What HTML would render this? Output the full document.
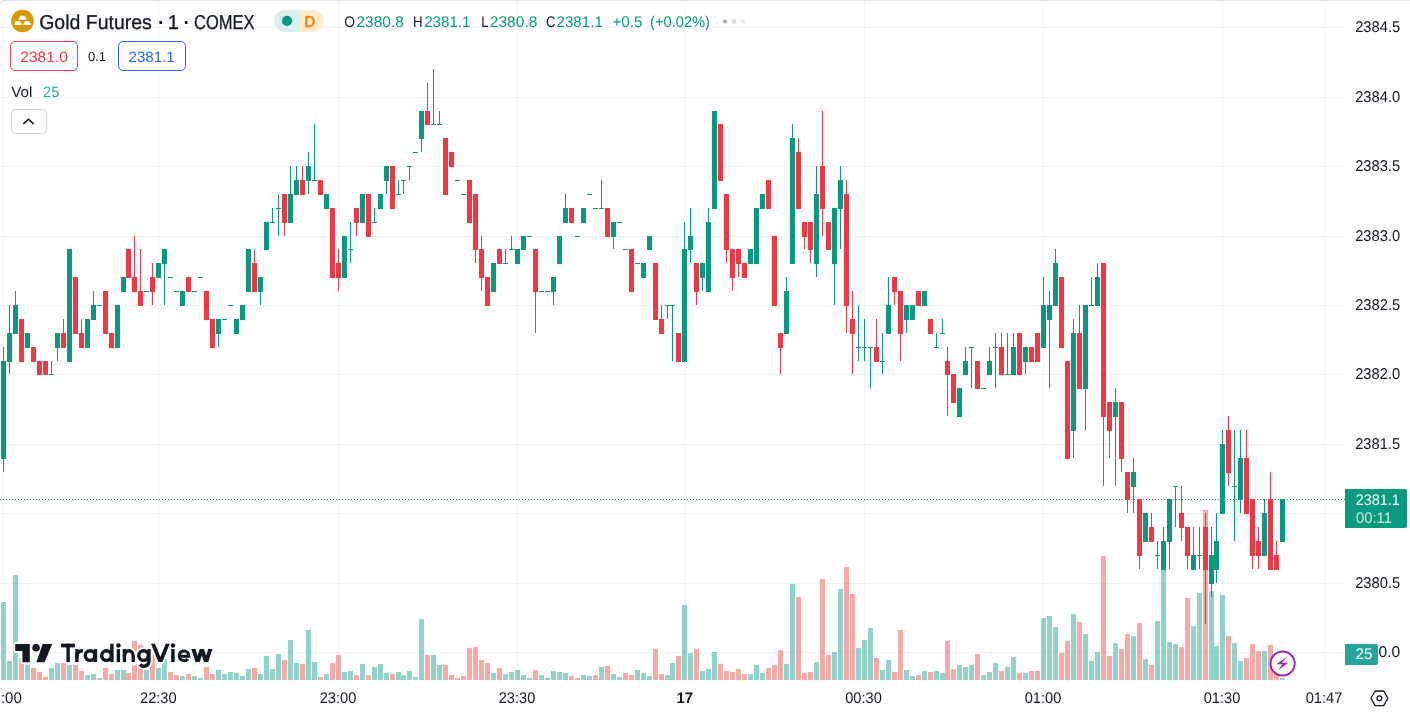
<!DOCTYPE html><html><head><meta charset="utf-8"><title>Gold Futures</title>
<style>html,body{margin:0;padding:0;background:#fff;}body{width:1410px;height:714px;overflow:hidden;position:relative;font-family:"Liberation Sans",sans-serif;}svg{position:absolute;left:0;top:0;display:block;will-change:transform;opacity:0.999}text{font-family:"Liberation Sans",sans-serif;text-rendering:geometricPrecision;}</style></head><body>
<svg width="1410" height="714" viewBox="0 0 1410 714">
<rect x="0" y="0" width="1410" height="714" fill="#ffffff"/>
<g shape-rendering="crispEdges" fill="rgba(42,46,57,0.06)">
<rect x="3" y="0" width="1" height="680"/>
<rect x="158" y="0" width="1" height="680"/>
<rect x="338" y="0" width="1" height="680"/>
<rect x="517" y="0" width="1" height="680"/>
<rect x="684" y="0" width="1" height="680"/>
<rect x="864" y="0" width="1" height="680"/>
<rect x="1043" y="0" width="1" height="680"/>
<rect x="1222" y="0" width="1" height="680"/>
<rect x="1324" y="0" width="1" height="680"/>
<rect x="0" y="652" width="1345" height="1"/>
<rect x="0" y="583" width="1345" height="1"/>
<rect x="0" y="513" width="1345" height="1"/>
<rect x="0" y="444" width="1345" height="1"/>
<rect x="0" y="374" width="1345" height="1"/>
<rect x="0" y="305" width="1345" height="1"/>
<rect x="0" y="236" width="1345" height="1"/>
<rect x="0" y="166" width="1345" height="1"/>
<rect x="0" y="97" width="1345" height="1"/>
<rect x="0" y="27" width="1345" height="1"/>
</g>
<g shape-rendering="crispEdges">
<rect x="1" y="602" width="5" height="78" fill="rgba(38,166,154,0.5)"/>
<rect x="7" y="661" width="5" height="19" fill="rgba(38,166,154,0.5)"/>
<rect x="13" y="575" width="5" height="105" fill="rgba(38,166,154,0.5)"/>
<rect x="19" y="658" width="5" height="22" fill="rgba(239,83,80,0.5)"/>
<rect x="25" y="665" width="5" height="15" fill="rgba(38,166,154,0.5)"/>
<rect x="31" y="668" width="5" height="12" fill="rgba(239,83,80,0.5)"/>
<rect x="37" y="672" width="5" height="8" fill="rgba(239,83,80,0.5)"/>
<rect x="43" y="677" width="5" height="3" fill="rgba(239,83,80,0.5)"/>
<rect x="49" y="668" width="5" height="12" fill="rgba(38,166,154,0.5)"/>
<rect x="55" y="663" width="5" height="17" fill="rgba(38,166,154,0.5)"/>
<rect x="61" y="663" width="5" height="17" fill="rgba(239,83,80,0.5)"/>
<rect x="67" y="665" width="5" height="15" fill="rgba(38,166,154,0.5)"/>
<rect x="73" y="665" width="5" height="15" fill="rgba(239,83,80,0.5)"/>
<rect x="79" y="671" width="5" height="9" fill="rgba(239,83,80,0.5)"/>
<rect x="85" y="675" width="5" height="5" fill="rgba(38,166,154,0.5)"/>
<rect x="91" y="674" width="5" height="6" fill="rgba(38,166,154,0.5)"/>
<rect x="97" y="678" width="5" height="2" fill="rgba(38,166,154,0.5)"/>
<rect x="103" y="668" width="5" height="12" fill="rgba(239,83,80,0.5)"/>
<rect x="109" y="674" width="5" height="6" fill="rgba(239,83,80,0.5)"/>
<rect x="115" y="670" width="5" height="10" fill="rgba(38,166,154,0.5)"/>
<rect x="121" y="670" width="5" height="10" fill="rgba(38,166,154,0.5)"/>
<rect x="126" y="673" width="5" height="7" fill="rgba(239,83,80,0.5)"/>
<rect x="132" y="641" width="5" height="39" fill="rgba(239,83,80,0.5)"/>
<rect x="138" y="645" width="5" height="35" fill="rgba(239,83,80,0.5)"/>
<rect x="144" y="670" width="5" height="10" fill="rgba(38,166,154,0.5)"/>
<rect x="150" y="652" width="5" height="28" fill="rgba(239,83,80,0.5)"/>
<rect x="156" y="668" width="5" height="12" fill="rgba(38,166,154,0.5)"/>
<rect x="162" y="659" width="5" height="21" fill="rgba(38,166,154,0.5)"/>
<rect x="168" y="672" width="5" height="8" fill="rgba(239,83,80,0.5)"/>
<rect x="174" y="675" width="5" height="5" fill="rgba(239,83,80,0.5)"/>
<rect x="180" y="676" width="5" height="4" fill="rgba(38,166,154,0.5)"/>
<rect x="186" y="674" width="5" height="6" fill="rgba(239,83,80,0.5)"/>
<rect x="192" y="676" width="5" height="4" fill="rgba(38,166,154,0.5)"/>
<rect x="198" y="678" width="5" height="2" fill="rgba(38,166,154,0.5)"/>
<rect x="204" y="667" width="5" height="13" fill="rgba(239,83,80,0.5)"/>
<rect x="210" y="674" width="5" height="6" fill="rgba(239,83,80,0.5)"/>
<rect x="216" y="670" width="5" height="10" fill="rgba(38,166,154,0.5)"/>
<rect x="222" y="674" width="5" height="6" fill="rgba(38,166,154,0.5)"/>
<rect x="228" y="672" width="5" height="8" fill="rgba(38,166,154,0.5)"/>
<rect x="234" y="673" width="5" height="7" fill="rgba(38,166,154,0.5)"/>
<rect x="240" y="676" width="5" height="4" fill="rgba(38,166,154,0.5)"/>
<rect x="246" y="669" width="5" height="11" fill="rgba(38,166,154,0.5)"/>
<rect x="252" y="668" width="5" height="12" fill="rgba(239,83,80,0.5)"/>
<rect x="258" y="674" width="5" height="6" fill="rgba(38,166,154,0.5)"/>
<rect x="264" y="656" width="5" height="24" fill="rgba(38,166,154,0.5)"/>
<rect x="270" y="669" width="5" height="11" fill="rgba(38,166,154,0.5)"/>
<rect x="276" y="654" width="5" height="26" fill="rgba(38,166,154,0.5)"/>
<rect x="282" y="660" width="5" height="20" fill="rgba(239,83,80,0.5)"/>
<rect x="288" y="640" width="5" height="40" fill="rgba(38,166,154,0.5)"/>
<rect x="294" y="663" width="5" height="17" fill="rgba(38,166,154,0.5)"/>
<rect x="300" y="664" width="5" height="16" fill="rgba(239,83,80,0.5)"/>
<rect x="306" y="630" width="5" height="50" fill="rgba(38,166,154,0.5)"/>
<rect x="312" y="662" width="5" height="18" fill="rgba(38,166,154,0.5)"/>
<rect x="318" y="677" width="5" height="3" fill="rgba(239,83,80,0.5)"/>
<rect x="324" y="674" width="5" height="6" fill="rgba(38,166,154,0.5)"/>
<rect x="330" y="663" width="5" height="17" fill="rgba(239,83,80,0.5)"/>
<rect x="336" y="655" width="5" height="25" fill="rgba(239,83,80,0.5)"/>
<rect x="342" y="672" width="5" height="8" fill="rgba(38,166,154,0.5)"/>
<rect x="348" y="671" width="5" height="9" fill="rgba(38,166,154,0.5)"/>
<rect x="354" y="675" width="5" height="5" fill="rgba(239,83,80,0.5)"/>
<rect x="360" y="664" width="5" height="16" fill="rgba(38,166,154,0.5)"/>
<rect x="366" y="675" width="5" height="5" fill="rgba(239,83,80,0.5)"/>
<rect x="372" y="667" width="5" height="13" fill="rgba(38,166,154,0.5)"/>
<rect x="378" y="664" width="5" height="16" fill="rgba(38,166,154,0.5)"/>
<rect x="384" y="673" width="5" height="7" fill="rgba(38,166,154,0.5)"/>
<rect x="390" y="674" width="5" height="6" fill="rgba(239,83,80,0.5)"/>
<rect x="396" y="672" width="5" height="8" fill="rgba(38,166,154,0.5)"/>
<rect x="401" y="675" width="5" height="5" fill="rgba(38,166,154,0.5)"/>
<rect x="407" y="671" width="5" height="9" fill="rgba(38,166,154,0.5)"/>
<rect x="413" y="677" width="5" height="3" fill="rgba(38,166,154,0.5)"/>
<rect x="419" y="619" width="5" height="61" fill="rgba(38,166,154,0.5)"/>
<rect x="425" y="655" width="5" height="25" fill="rgba(239,83,80,0.5)"/>
<rect x="431" y="655" width="5" height="25" fill="rgba(38,166,154,0.5)"/>
<rect x="437" y="665" width="5" height="15" fill="rgba(38,166,154,0.5)"/>
<rect x="443" y="665" width="5" height="15" fill="rgba(239,83,80,0.5)"/>
<rect x="449" y="675" width="5" height="5" fill="rgba(239,83,80,0.5)"/>
<rect x="455" y="678" width="5" height="2" fill="rgba(239,83,80,0.5)"/>
<rect x="461" y="676" width="5" height="4" fill="rgba(239,83,80,0.5)"/>
<rect x="467" y="648" width="5" height="32" fill="rgba(239,83,80,0.5)"/>
<rect x="473" y="647" width="5" height="33" fill="rgba(239,83,80,0.5)"/>
<rect x="479" y="660" width="5" height="20" fill="rgba(239,83,80,0.5)"/>
<rect x="485" y="663" width="5" height="17" fill="rgba(239,83,80,0.5)"/>
<rect x="491" y="673" width="5" height="7" fill="rgba(38,166,154,0.5)"/>
<rect x="497" y="668" width="5" height="12" fill="rgba(239,83,80,0.5)"/>
<rect x="503" y="674" width="5" height="6" fill="rgba(38,166,154,0.5)"/>
<rect x="509" y="672" width="5" height="8" fill="rgba(38,166,154,0.5)"/>
<rect x="515" y="670" width="5" height="10" fill="rgba(38,166,154,0.5)"/>
<rect x="521" y="675" width="5" height="5" fill="rgba(38,166,154,0.5)"/>
<rect x="527" y="678" width="5" height="2" fill="rgba(38,166,154,0.5)"/>
<rect x="533" y="670" width="5" height="10" fill="rgba(239,83,80,0.5)"/>
<rect x="539" y="675" width="5" height="5" fill="rgba(38,166,154,0.5)"/>
<rect x="545" y="678" width="5" height="2" fill="rgba(38,166,154,0.5)"/>
<rect x="551" y="671" width="5" height="9" fill="rgba(38,166,154,0.5)"/>
<rect x="557" y="672" width="5" height="8" fill="rgba(38,166,154,0.5)"/>
<rect x="563" y="673" width="5" height="7" fill="rgba(38,166,154,0.5)"/>
<rect x="569" y="676" width="5" height="4" fill="rgba(239,83,80,0.5)"/>
<rect x="575" y="678" width="5" height="2" fill="rgba(239,83,80,0.5)"/>
<rect x="581" y="675" width="5" height="5" fill="rgba(38,166,154,0.5)"/>
<rect x="587" y="676" width="5" height="4" fill="rgba(38,166,154,0.5)"/>
<rect x="593" y="675" width="5" height="5" fill="rgba(239,83,80,0.5)"/>
<rect x="599" y="667" width="5" height="13" fill="rgba(38,166,154,0.5)"/>
<rect x="605" y="666" width="5" height="14" fill="rgba(239,83,80,0.5)"/>
<rect x="611" y="674" width="5" height="6" fill="rgba(38,166,154,0.5)"/>
<rect x="617" y="677" width="5" height="3" fill="rgba(38,166,154,0.5)"/>
<rect x="623" y="673" width="5" height="7" fill="rgba(239,83,80,0.5)"/>
<rect x="629" y="675" width="5" height="5" fill="rgba(239,83,80,0.5)"/>
<rect x="635" y="670" width="5" height="10" fill="rgba(38,166,154,0.5)"/>
<rect x="641" y="673" width="5" height="7" fill="rgba(38,166,154,0.5)"/>
<rect x="647" y="676" width="5" height="4" fill="rgba(38,166,154,0.5)"/>
<rect x="653" y="649" width="5" height="31" fill="rgba(239,83,80,0.5)"/>
<rect x="659" y="674" width="5" height="6" fill="rgba(239,83,80,0.5)"/>
<rect x="665" y="675" width="5" height="5" fill="rgba(38,166,154,0.5)"/>
<rect x="670" y="663" width="5" height="17" fill="rgba(38,166,154,0.5)"/>
<rect x="676" y="656" width="5" height="24" fill="rgba(239,83,80,0.5)"/>
<rect x="682" y="605" width="5" height="75" fill="rgba(38,166,154,0.5)"/>
<rect x="688" y="653" width="5" height="27" fill="rgba(38,166,154,0.5)"/>
<rect x="694" y="649" width="5" height="31" fill="rgba(239,83,80,0.5)"/>
<rect x="700" y="671" width="5" height="9" fill="rgba(38,166,154,0.5)"/>
<rect x="706" y="669" width="5" height="11" fill="rgba(38,166,154,0.5)"/>
<rect x="712" y="652" width="5" height="28" fill="rgba(38,166,154,0.5)"/>
<rect x="718" y="664" width="5" height="16" fill="rgba(239,83,80,0.5)"/>
<rect x="724" y="671" width="5" height="9" fill="rgba(239,83,80,0.5)"/>
<rect x="730" y="672" width="5" height="8" fill="rgba(239,83,80,0.5)"/>
<rect x="736" y="669" width="5" height="11" fill="rgba(239,83,80,0.5)"/>
<rect x="742" y="674" width="5" height="6" fill="rgba(239,83,80,0.5)"/>
<rect x="748" y="674" width="5" height="6" fill="rgba(38,166,154,0.5)"/>
<rect x="754" y="665" width="5" height="15" fill="rgba(38,166,154,0.5)"/>
<rect x="760" y="673" width="5" height="7" fill="rgba(38,166,154,0.5)"/>
<rect x="766" y="668" width="5" height="12" fill="rgba(239,83,80,0.5)"/>
<rect x="772" y="665" width="5" height="15" fill="rgba(239,83,80,0.5)"/>
<rect x="778" y="650" width="5" height="30" fill="rgba(239,83,80,0.5)"/>
<rect x="784" y="664" width="5" height="16" fill="rgba(38,166,154,0.5)"/>
<rect x="790" y="584" width="5" height="96" fill="rgba(38,166,154,0.5)"/>
<rect x="796" y="597" width="5" height="83" fill="rgba(239,83,80,0.5)"/>
<rect x="802" y="673" width="5" height="7" fill="rgba(239,83,80,0.5)"/>
<rect x="808" y="672" width="5" height="8" fill="rgba(239,83,80,0.5)"/>
<rect x="814" y="662" width="5" height="18" fill="rgba(38,166,154,0.5)"/>
<rect x="820" y="579" width="5" height="101" fill="rgba(239,83,80,0.5)"/>
<rect x="826" y="655" width="5" height="25" fill="rgba(239,83,80,0.5)"/>
<rect x="832" y="652" width="5" height="28" fill="rgba(38,166,154,0.5)"/>
<rect x="838" y="589" width="5" height="91" fill="rgba(38,166,154,0.5)"/>
<rect x="844" y="567" width="5" height="113" fill="rgba(239,83,80,0.5)"/>
<rect x="850" y="594" width="5" height="86" fill="rgba(239,83,80,0.5)"/>
<rect x="856" y="648" width="5" height="32" fill="rgba(38,166,154,0.5)"/>
<rect x="862" y="640" width="5" height="40" fill="rgba(38,166,154,0.5)"/>
<rect x="868" y="628" width="5" height="52" fill="rgba(38,166,154,0.5)"/>
<rect x="874" y="658" width="5" height="22" fill="rgba(239,83,80,0.5)"/>
<rect x="880" y="670" width="5" height="10" fill="rgba(38,166,154,0.5)"/>
<rect x="886" y="660" width="5" height="20" fill="rgba(38,166,154,0.5)"/>
<rect x="892" y="672" width="5" height="8" fill="rgba(239,83,80,0.5)"/>
<rect x="898" y="630" width="5" height="50" fill="rgba(239,83,80,0.5)"/>
<rect x="904" y="670" width="5" height="10" fill="rgba(38,166,154,0.5)"/>
<rect x="910" y="676" width="5" height="4" fill="rgba(38,166,154,0.5)"/>
<rect x="916" y="675" width="5" height="5" fill="rgba(239,83,80,0.5)"/>
<rect x="922" y="671" width="5" height="9" fill="rgba(38,166,154,0.5)"/>
<rect x="928" y="672" width="5" height="8" fill="rgba(239,83,80,0.5)"/>
<rect x="934" y="671" width="5" height="9" fill="rgba(38,166,154,0.5)"/>
<rect x="940" y="673" width="5" height="7" fill="rgba(38,166,154,0.5)"/>
<rect x="945" y="641" width="5" height="39" fill="rgba(239,83,80,0.5)"/>
<rect x="951" y="669" width="5" height="11" fill="rgba(239,83,80,0.5)"/>
<rect x="957" y="665" width="5" height="15" fill="rgba(38,166,154,0.5)"/>
<rect x="963" y="667" width="5" height="13" fill="rgba(38,166,154,0.5)"/>
<rect x="969" y="665" width="5" height="15" fill="rgba(38,166,154,0.5)"/>
<rect x="975" y="654" width="5" height="26" fill="rgba(239,83,80,0.5)"/>
<rect x="981" y="675" width="5" height="5" fill="rgba(38,166,154,0.5)"/>
<rect x="987" y="672" width="5" height="8" fill="rgba(38,166,154,0.5)"/>
<rect x="993" y="663" width="5" height="17" fill="rgba(38,166,154,0.5)"/>
<rect x="999" y="671" width="5" height="9" fill="rgba(239,83,80,0.5)"/>
<rect x="1005" y="667" width="5" height="13" fill="rgba(38,166,154,0.5)"/>
<rect x="1011" y="657" width="5" height="23" fill="rgba(38,166,154,0.5)"/>
<rect x="1017" y="673" width="5" height="7" fill="rgba(239,83,80,0.5)"/>
<rect x="1023" y="673" width="5" height="7" fill="rgba(38,166,154,0.5)"/>
<rect x="1029" y="671" width="5" height="9" fill="rgba(239,83,80,0.5)"/>
<rect x="1035" y="671" width="5" height="9" fill="rgba(239,83,80,0.5)"/>
<rect x="1041" y="618" width="5" height="62" fill="rgba(38,166,154,0.5)"/>
<rect x="1047" y="616" width="5" height="64" fill="rgba(38,166,154,0.5)"/>
<rect x="1053" y="627" width="5" height="53" fill="rgba(38,166,154,0.5)"/>
<rect x="1059" y="653" width="5" height="27" fill="rgba(239,83,80,0.5)"/>
<rect x="1065" y="641" width="5" height="39" fill="rgba(239,83,80,0.5)"/>
<rect x="1071" y="614" width="5" height="66" fill="rgba(38,166,154,0.5)"/>
<rect x="1077" y="622" width="5" height="58" fill="rgba(239,83,80,0.5)"/>
<rect x="1083" y="634" width="5" height="46" fill="rgba(38,166,154,0.5)"/>
<rect x="1089" y="661" width="5" height="19" fill="rgba(38,166,154,0.5)"/>
<rect x="1095" y="652" width="5" height="28" fill="rgba(38,166,154,0.5)"/>
<rect x="1101" y="556" width="5" height="124" fill="rgba(239,83,80,0.5)"/>
<rect x="1107" y="656" width="5" height="24" fill="rgba(239,83,80,0.5)"/>
<rect x="1113" y="643" width="5" height="37" fill="rgba(38,166,154,0.5)"/>
<rect x="1119" y="649" width="5" height="31" fill="rgba(239,83,80,0.5)"/>
<rect x="1125" y="634" width="5" height="46" fill="rgba(239,83,80,0.5)"/>
<rect x="1131" y="636" width="5" height="44" fill="rgba(38,166,154,0.5)"/>
<rect x="1137" y="623" width="5" height="57" fill="rgba(239,83,80,0.5)"/>
<rect x="1143" y="659" width="5" height="21" fill="rgba(38,166,154,0.5)"/>
<rect x="1149" y="665" width="5" height="15" fill="rgba(239,83,80,0.5)"/>
<rect x="1155" y="621" width="5" height="59" fill="rgba(38,166,154,0.5)"/>
<rect x="1161" y="560" width="5" height="120" fill="rgba(38,166,154,0.5)"/>
<rect x="1167" y="642" width="5" height="38" fill="rgba(38,166,154,0.5)"/>
<rect x="1173" y="644" width="5" height="36" fill="rgba(38,166,154,0.5)"/>
<rect x="1179" y="647" width="5" height="33" fill="rgba(239,83,80,0.5)"/>
<rect x="1185" y="598" width="5" height="82" fill="rgba(239,83,80,0.5)"/>
<rect x="1191" y="626" width="5" height="54" fill="rgba(38,166,154,0.5)"/>
<rect x="1197" y="593" width="5" height="87" fill="rgba(38,166,154,0.5)"/>
<rect x="1203" y="510" width="5" height="170" fill="rgba(239,83,80,0.5)"/>
<rect x="1209" y="591" width="5" height="89" fill="rgba(38,166,154,0.5)"/>
<rect x="1214" y="646" width="5" height="34" fill="rgba(38,166,154,0.5)"/>
<rect x="1220" y="595" width="5" height="85" fill="rgba(38,166,154,0.5)"/>
<rect x="1226" y="636" width="5" height="44" fill="rgba(239,83,80,0.5)"/>
<rect x="1232" y="643" width="5" height="37" fill="rgba(38,166,154,0.5)"/>
<rect x="1238" y="661" width="5" height="19" fill="rgba(38,166,154,0.5)"/>
<rect x="1244" y="658" width="5" height="22" fill="rgba(239,83,80,0.5)"/>
<rect x="1250" y="644" width="5" height="36" fill="rgba(239,83,80,0.5)"/>
<rect x="1256" y="651" width="5" height="29" fill="rgba(239,83,80,0.5)"/>
<rect x="1262" y="651" width="5" height="29" fill="rgba(38,166,154,0.5)"/>
<rect x="1268" y="645" width="5" height="35" fill="rgba(239,83,80,0.5)"/>
<rect x="1274" y="665" width="5" height="15" fill="rgba(239,83,80,0.5)"/>
<rect x="1280" y="678" width="5" height="2" fill="rgba(38,166,154,0.5)"/>
</g>
<g shape-rendering="crispEdges" fill="#089981">
<rect x="0" y="499" width="1" height="1"/>
<rect x="3" y="499" width="1" height="1"/>
<rect x="6" y="499" width="1" height="1"/>
<rect x="9" y="499" width="1" height="1"/>
<rect x="12" y="499" width="1" height="1"/>
<rect x="15" y="499" width="1" height="1"/>
<rect x="18" y="499" width="1" height="1"/>
<rect x="21" y="499" width="1" height="1"/>
<rect x="24" y="499" width="1" height="1"/>
<rect x="27" y="499" width="1" height="1"/>
<rect x="30" y="499" width="1" height="1"/>
<rect x="33" y="499" width="1" height="1"/>
<rect x="36" y="499" width="1" height="1"/>
<rect x="39" y="499" width="1" height="1"/>
<rect x="42" y="499" width="1" height="1"/>
<rect x="45" y="499" width="1" height="1"/>
<rect x="48" y="499" width="1" height="1"/>
<rect x="51" y="499" width="1" height="1"/>
<rect x="54" y="499" width="1" height="1"/>
<rect x="57" y="499" width="1" height="1"/>
<rect x="60" y="499" width="1" height="1"/>
<rect x="63" y="499" width="1" height="1"/>
<rect x="66" y="499" width="1" height="1"/>
<rect x="69" y="499" width="1" height="1"/>
<rect x="72" y="499" width="1" height="1"/>
<rect x="75" y="499" width="1" height="1"/>
<rect x="78" y="499" width="1" height="1"/>
<rect x="81" y="499" width="1" height="1"/>
<rect x="84" y="499" width="1" height="1"/>
<rect x="87" y="499" width="1" height="1"/>
<rect x="90" y="499" width="1" height="1"/>
<rect x="93" y="499" width="1" height="1"/>
<rect x="96" y="499" width="1" height="1"/>
<rect x="99" y="499" width="1" height="1"/>
<rect x="102" y="499" width="1" height="1"/>
<rect x="105" y="499" width="1" height="1"/>
<rect x="108" y="499" width="1" height="1"/>
<rect x="111" y="499" width="1" height="1"/>
<rect x="114" y="499" width="1" height="1"/>
<rect x="117" y="499" width="1" height="1"/>
<rect x="120" y="499" width="1" height="1"/>
<rect x="123" y="499" width="1" height="1"/>
<rect x="126" y="499" width="1" height="1"/>
<rect x="129" y="499" width="1" height="1"/>
<rect x="132" y="499" width="1" height="1"/>
<rect x="135" y="499" width="1" height="1"/>
<rect x="138" y="499" width="1" height="1"/>
<rect x="141" y="499" width="1" height="1"/>
<rect x="144" y="499" width="1" height="1"/>
<rect x="147" y="499" width="1" height="1"/>
<rect x="150" y="499" width="1" height="1"/>
<rect x="153" y="499" width="1" height="1"/>
<rect x="156" y="499" width="1" height="1"/>
<rect x="159" y="499" width="1" height="1"/>
<rect x="162" y="499" width="1" height="1"/>
<rect x="165" y="499" width="1" height="1"/>
<rect x="168" y="499" width="1" height="1"/>
<rect x="171" y="499" width="1" height="1"/>
<rect x="174" y="499" width="1" height="1"/>
<rect x="177" y="499" width="1" height="1"/>
<rect x="180" y="499" width="1" height="1"/>
<rect x="183" y="499" width="1" height="1"/>
<rect x="186" y="499" width="1" height="1"/>
<rect x="189" y="499" width="1" height="1"/>
<rect x="192" y="499" width="1" height="1"/>
<rect x="195" y="499" width="1" height="1"/>
<rect x="198" y="499" width="1" height="1"/>
<rect x="201" y="499" width="1" height="1"/>
<rect x="204" y="499" width="1" height="1"/>
<rect x="207" y="499" width="1" height="1"/>
<rect x="210" y="499" width="1" height="1"/>
<rect x="213" y="499" width="1" height="1"/>
<rect x="216" y="499" width="1" height="1"/>
<rect x="219" y="499" width="1" height="1"/>
<rect x="222" y="499" width="1" height="1"/>
<rect x="225" y="499" width="1" height="1"/>
<rect x="228" y="499" width="1" height="1"/>
<rect x="231" y="499" width="1" height="1"/>
<rect x="234" y="499" width="1" height="1"/>
<rect x="237" y="499" width="1" height="1"/>
<rect x="240" y="499" width="1" height="1"/>
<rect x="243" y="499" width="1" height="1"/>
<rect x="246" y="499" width="1" height="1"/>
<rect x="249" y="499" width="1" height="1"/>
<rect x="252" y="499" width="1" height="1"/>
<rect x="255" y="499" width="1" height="1"/>
<rect x="258" y="499" width="1" height="1"/>
<rect x="261" y="499" width="1" height="1"/>
<rect x="264" y="499" width="1" height="1"/>
<rect x="267" y="499" width="1" height="1"/>
<rect x="270" y="499" width="1" height="1"/>
<rect x="273" y="499" width="1" height="1"/>
<rect x="276" y="499" width="1" height="1"/>
<rect x="279" y="499" width="1" height="1"/>
<rect x="282" y="499" width="1" height="1"/>
<rect x="285" y="499" width="1" height="1"/>
<rect x="288" y="499" width="1" height="1"/>
<rect x="291" y="499" width="1" height="1"/>
<rect x="294" y="499" width="1" height="1"/>
<rect x="297" y="499" width="1" height="1"/>
<rect x="300" y="499" width="1" height="1"/>
<rect x="303" y="499" width="1" height="1"/>
<rect x="306" y="499" width="1" height="1"/>
<rect x="309" y="499" width="1" height="1"/>
<rect x="312" y="499" width="1" height="1"/>
<rect x="315" y="499" width="1" height="1"/>
<rect x="318" y="499" width="1" height="1"/>
<rect x="321" y="499" width="1" height="1"/>
<rect x="324" y="499" width="1" height="1"/>
<rect x="327" y="499" width="1" height="1"/>
<rect x="330" y="499" width="1" height="1"/>
<rect x="333" y="499" width="1" height="1"/>
<rect x="336" y="499" width="1" height="1"/>
<rect x="339" y="499" width="1" height="1"/>
<rect x="342" y="499" width="1" height="1"/>
<rect x="345" y="499" width="1" height="1"/>
<rect x="348" y="499" width="1" height="1"/>
<rect x="351" y="499" width="1" height="1"/>
<rect x="354" y="499" width="1" height="1"/>
<rect x="357" y="499" width="1" height="1"/>
<rect x="360" y="499" width="1" height="1"/>
<rect x="363" y="499" width="1" height="1"/>
<rect x="366" y="499" width="1" height="1"/>
<rect x="369" y="499" width="1" height="1"/>
<rect x="372" y="499" width="1" height="1"/>
<rect x="375" y="499" width="1" height="1"/>
<rect x="378" y="499" width="1" height="1"/>
<rect x="381" y="499" width="1" height="1"/>
<rect x="384" y="499" width="1" height="1"/>
<rect x="387" y="499" width="1" height="1"/>
<rect x="390" y="499" width="1" height="1"/>
<rect x="393" y="499" width="1" height="1"/>
<rect x="396" y="499" width="1" height="1"/>
<rect x="399" y="499" width="1" height="1"/>
<rect x="402" y="499" width="1" height="1"/>
<rect x="405" y="499" width="1" height="1"/>
<rect x="408" y="499" width="1" height="1"/>
<rect x="411" y="499" width="1" height="1"/>
<rect x="414" y="499" width="1" height="1"/>
<rect x="417" y="499" width="1" height="1"/>
<rect x="420" y="499" width="1" height="1"/>
<rect x="423" y="499" width="1" height="1"/>
<rect x="426" y="499" width="1" height="1"/>
<rect x="429" y="499" width="1" height="1"/>
<rect x="432" y="499" width="1" height="1"/>
<rect x="435" y="499" width="1" height="1"/>
<rect x="438" y="499" width="1" height="1"/>
<rect x="441" y="499" width="1" height="1"/>
<rect x="444" y="499" width="1" height="1"/>
<rect x="447" y="499" width="1" height="1"/>
<rect x="450" y="499" width="1" height="1"/>
<rect x="453" y="499" width="1" height="1"/>
<rect x="456" y="499" width="1" height="1"/>
<rect x="459" y="499" width="1" height="1"/>
<rect x="462" y="499" width="1" height="1"/>
<rect x="465" y="499" width="1" height="1"/>
<rect x="468" y="499" width="1" height="1"/>
<rect x="471" y="499" width="1" height="1"/>
<rect x="474" y="499" width="1" height="1"/>
<rect x="477" y="499" width="1" height="1"/>
<rect x="480" y="499" width="1" height="1"/>
<rect x="483" y="499" width="1" height="1"/>
<rect x="486" y="499" width="1" height="1"/>
<rect x="489" y="499" width="1" height="1"/>
<rect x="492" y="499" width="1" height="1"/>
<rect x="495" y="499" width="1" height="1"/>
<rect x="498" y="499" width="1" height="1"/>
<rect x="501" y="499" width="1" height="1"/>
<rect x="504" y="499" width="1" height="1"/>
<rect x="507" y="499" width="1" height="1"/>
<rect x="510" y="499" width="1" height="1"/>
<rect x="513" y="499" width="1" height="1"/>
<rect x="516" y="499" width="1" height="1"/>
<rect x="519" y="499" width="1" height="1"/>
<rect x="522" y="499" width="1" height="1"/>
<rect x="525" y="499" width="1" height="1"/>
<rect x="528" y="499" width="1" height="1"/>
<rect x="531" y="499" width="1" height="1"/>
<rect x="534" y="499" width="1" height="1"/>
<rect x="537" y="499" width="1" height="1"/>
<rect x="540" y="499" width="1" height="1"/>
<rect x="543" y="499" width="1" height="1"/>
<rect x="546" y="499" width="1" height="1"/>
<rect x="549" y="499" width="1" height="1"/>
<rect x="552" y="499" width="1" height="1"/>
<rect x="555" y="499" width="1" height="1"/>
<rect x="558" y="499" width="1" height="1"/>
<rect x="561" y="499" width="1" height="1"/>
<rect x="564" y="499" width="1" height="1"/>
<rect x="567" y="499" width="1" height="1"/>
<rect x="570" y="499" width="1" height="1"/>
<rect x="573" y="499" width="1" height="1"/>
<rect x="576" y="499" width="1" height="1"/>
<rect x="579" y="499" width="1" height="1"/>
<rect x="582" y="499" width="1" height="1"/>
<rect x="585" y="499" width="1" height="1"/>
<rect x="588" y="499" width="1" height="1"/>
<rect x="591" y="499" width="1" height="1"/>
<rect x="594" y="499" width="1" height="1"/>
<rect x="597" y="499" width="1" height="1"/>
<rect x="600" y="499" width="1" height="1"/>
<rect x="603" y="499" width="1" height="1"/>
<rect x="606" y="499" width="1" height="1"/>
<rect x="609" y="499" width="1" height="1"/>
<rect x="612" y="499" width="1" height="1"/>
<rect x="615" y="499" width="1" height="1"/>
<rect x="618" y="499" width="1" height="1"/>
<rect x="621" y="499" width="1" height="1"/>
<rect x="624" y="499" width="1" height="1"/>
<rect x="627" y="499" width="1" height="1"/>
<rect x="630" y="499" width="1" height="1"/>
<rect x="633" y="499" width="1" height="1"/>
<rect x="636" y="499" width="1" height="1"/>
<rect x="639" y="499" width="1" height="1"/>
<rect x="642" y="499" width="1" height="1"/>
<rect x="645" y="499" width="1" height="1"/>
<rect x="648" y="499" width="1" height="1"/>
<rect x="651" y="499" width="1" height="1"/>
<rect x="654" y="499" width="1" height="1"/>
<rect x="657" y="499" width="1" height="1"/>
<rect x="660" y="499" width="1" height="1"/>
<rect x="663" y="499" width="1" height="1"/>
<rect x="666" y="499" width="1" height="1"/>
<rect x="669" y="499" width="1" height="1"/>
<rect x="672" y="499" width="1" height="1"/>
<rect x="675" y="499" width="1" height="1"/>
<rect x="678" y="499" width="1" height="1"/>
<rect x="681" y="499" width="1" height="1"/>
<rect x="684" y="499" width="1" height="1"/>
<rect x="687" y="499" width="1" height="1"/>
<rect x="690" y="499" width="1" height="1"/>
<rect x="693" y="499" width="1" height="1"/>
<rect x="696" y="499" width="1" height="1"/>
<rect x="699" y="499" width="1" height="1"/>
<rect x="702" y="499" width="1" height="1"/>
<rect x="705" y="499" width="1" height="1"/>
<rect x="708" y="499" width="1" height="1"/>
<rect x="711" y="499" width="1" height="1"/>
<rect x="714" y="499" width="1" height="1"/>
<rect x="717" y="499" width="1" height="1"/>
<rect x="720" y="499" width="1" height="1"/>
<rect x="723" y="499" width="1" height="1"/>
<rect x="726" y="499" width="1" height="1"/>
<rect x="729" y="499" width="1" height="1"/>
<rect x="732" y="499" width="1" height="1"/>
<rect x="735" y="499" width="1" height="1"/>
<rect x="738" y="499" width="1" height="1"/>
<rect x="741" y="499" width="1" height="1"/>
<rect x="744" y="499" width="1" height="1"/>
<rect x="747" y="499" width="1" height="1"/>
<rect x="750" y="499" width="1" height="1"/>
<rect x="753" y="499" width="1" height="1"/>
<rect x="756" y="499" width="1" height="1"/>
<rect x="759" y="499" width="1" height="1"/>
<rect x="762" y="499" width="1" height="1"/>
<rect x="765" y="499" width="1" height="1"/>
<rect x="768" y="499" width="1" height="1"/>
<rect x="771" y="499" width="1" height="1"/>
<rect x="774" y="499" width="1" height="1"/>
<rect x="777" y="499" width="1" height="1"/>
<rect x="780" y="499" width="1" height="1"/>
<rect x="783" y="499" width="1" height="1"/>
<rect x="786" y="499" width="1" height="1"/>
<rect x="789" y="499" width="1" height="1"/>
<rect x="792" y="499" width="1" height="1"/>
<rect x="795" y="499" width="1" height="1"/>
<rect x="798" y="499" width="1" height="1"/>
<rect x="801" y="499" width="1" height="1"/>
<rect x="804" y="499" width="1" height="1"/>
<rect x="807" y="499" width="1" height="1"/>
<rect x="810" y="499" width="1" height="1"/>
<rect x="813" y="499" width="1" height="1"/>
<rect x="816" y="499" width="1" height="1"/>
<rect x="819" y="499" width="1" height="1"/>
<rect x="822" y="499" width="1" height="1"/>
<rect x="825" y="499" width="1" height="1"/>
<rect x="828" y="499" width="1" height="1"/>
<rect x="831" y="499" width="1" height="1"/>
<rect x="834" y="499" width="1" height="1"/>
<rect x="837" y="499" width="1" height="1"/>
<rect x="840" y="499" width="1" height="1"/>
<rect x="843" y="499" width="1" height="1"/>
<rect x="846" y="499" width="1" height="1"/>
<rect x="849" y="499" width="1" height="1"/>
<rect x="852" y="499" width="1" height="1"/>
<rect x="855" y="499" width="1" height="1"/>
<rect x="858" y="499" width="1" height="1"/>
<rect x="861" y="499" width="1" height="1"/>
<rect x="864" y="499" width="1" height="1"/>
<rect x="867" y="499" width="1" height="1"/>
<rect x="870" y="499" width="1" height="1"/>
<rect x="873" y="499" width="1" height="1"/>
<rect x="876" y="499" width="1" height="1"/>
<rect x="879" y="499" width="1" height="1"/>
<rect x="882" y="499" width="1" height="1"/>
<rect x="885" y="499" width="1" height="1"/>
<rect x="888" y="499" width="1" height="1"/>
<rect x="891" y="499" width="1" height="1"/>
<rect x="894" y="499" width="1" height="1"/>
<rect x="897" y="499" width="1" height="1"/>
<rect x="900" y="499" width="1" height="1"/>
<rect x="903" y="499" width="1" height="1"/>
<rect x="906" y="499" width="1" height="1"/>
<rect x="909" y="499" width="1" height="1"/>
<rect x="912" y="499" width="1" height="1"/>
<rect x="915" y="499" width="1" height="1"/>
<rect x="918" y="499" width="1" height="1"/>
<rect x="921" y="499" width="1" height="1"/>
<rect x="924" y="499" width="1" height="1"/>
<rect x="927" y="499" width="1" height="1"/>
<rect x="930" y="499" width="1" height="1"/>
<rect x="933" y="499" width="1" height="1"/>
<rect x="936" y="499" width="1" height="1"/>
<rect x="939" y="499" width="1" height="1"/>
<rect x="942" y="499" width="1" height="1"/>
<rect x="945" y="499" width="1" height="1"/>
<rect x="948" y="499" width="1" height="1"/>
<rect x="951" y="499" width="1" height="1"/>
<rect x="954" y="499" width="1" height="1"/>
<rect x="957" y="499" width="1" height="1"/>
<rect x="960" y="499" width="1" height="1"/>
<rect x="963" y="499" width="1" height="1"/>
<rect x="966" y="499" width="1" height="1"/>
<rect x="969" y="499" width="1" height="1"/>
<rect x="972" y="499" width="1" height="1"/>
<rect x="975" y="499" width="1" height="1"/>
<rect x="978" y="499" width="1" height="1"/>
<rect x="981" y="499" width="1" height="1"/>
<rect x="984" y="499" width="1" height="1"/>
<rect x="987" y="499" width="1" height="1"/>
<rect x="990" y="499" width="1" height="1"/>
<rect x="993" y="499" width="1" height="1"/>
<rect x="996" y="499" width="1" height="1"/>
<rect x="999" y="499" width="1" height="1"/>
<rect x="1002" y="499" width="1" height="1"/>
<rect x="1005" y="499" width="1" height="1"/>
<rect x="1008" y="499" width="1" height="1"/>
<rect x="1011" y="499" width="1" height="1"/>
<rect x="1014" y="499" width="1" height="1"/>
<rect x="1017" y="499" width="1" height="1"/>
<rect x="1020" y="499" width="1" height="1"/>
<rect x="1023" y="499" width="1" height="1"/>
<rect x="1026" y="499" width="1" height="1"/>
<rect x="1029" y="499" width="1" height="1"/>
<rect x="1032" y="499" width="1" height="1"/>
<rect x="1035" y="499" width="1" height="1"/>
<rect x="1038" y="499" width="1" height="1"/>
<rect x="1041" y="499" width="1" height="1"/>
<rect x="1044" y="499" width="1" height="1"/>
<rect x="1047" y="499" width="1" height="1"/>
<rect x="1050" y="499" width="1" height="1"/>
<rect x="1053" y="499" width="1" height="1"/>
<rect x="1056" y="499" width="1" height="1"/>
<rect x="1059" y="499" width="1" height="1"/>
<rect x="1062" y="499" width="1" height="1"/>
<rect x="1065" y="499" width="1" height="1"/>
<rect x="1068" y="499" width="1" height="1"/>
<rect x="1071" y="499" width="1" height="1"/>
<rect x="1074" y="499" width="1" height="1"/>
<rect x="1077" y="499" width="1" height="1"/>
<rect x="1080" y="499" width="1" height="1"/>
<rect x="1083" y="499" width="1" height="1"/>
<rect x="1086" y="499" width="1" height="1"/>
<rect x="1089" y="499" width="1" height="1"/>
<rect x="1092" y="499" width="1" height="1"/>
<rect x="1095" y="499" width="1" height="1"/>
<rect x="1098" y="499" width="1" height="1"/>
<rect x="1101" y="499" width="1" height="1"/>
<rect x="1104" y="499" width="1" height="1"/>
<rect x="1107" y="499" width="1" height="1"/>
<rect x="1110" y="499" width="1" height="1"/>
<rect x="1113" y="499" width="1" height="1"/>
<rect x="1116" y="499" width="1" height="1"/>
<rect x="1119" y="499" width="1" height="1"/>
<rect x="1122" y="499" width="1" height="1"/>
<rect x="1125" y="499" width="1" height="1"/>
<rect x="1128" y="499" width="1" height="1"/>
<rect x="1131" y="499" width="1" height="1"/>
<rect x="1134" y="499" width="1" height="1"/>
<rect x="1137" y="499" width="1" height="1"/>
<rect x="1140" y="499" width="1" height="1"/>
<rect x="1143" y="499" width="1" height="1"/>
<rect x="1146" y="499" width="1" height="1"/>
<rect x="1149" y="499" width="1" height="1"/>
<rect x="1152" y="499" width="1" height="1"/>
<rect x="1155" y="499" width="1" height="1"/>
<rect x="1158" y="499" width="1" height="1"/>
<rect x="1161" y="499" width="1" height="1"/>
<rect x="1164" y="499" width="1" height="1"/>
<rect x="1167" y="499" width="1" height="1"/>
<rect x="1170" y="499" width="1" height="1"/>
<rect x="1173" y="499" width="1" height="1"/>
<rect x="1176" y="499" width="1" height="1"/>
<rect x="1179" y="499" width="1" height="1"/>
<rect x="1182" y="499" width="1" height="1"/>
<rect x="1185" y="499" width="1" height="1"/>
<rect x="1188" y="499" width="1" height="1"/>
<rect x="1191" y="499" width="1" height="1"/>
<rect x="1194" y="499" width="1" height="1"/>
<rect x="1197" y="499" width="1" height="1"/>
<rect x="1200" y="499" width="1" height="1"/>
<rect x="1203" y="499" width="1" height="1"/>
<rect x="1206" y="499" width="1" height="1"/>
<rect x="1209" y="499" width="1" height="1"/>
<rect x="1212" y="499" width="1" height="1"/>
<rect x="1215" y="499" width="1" height="1"/>
<rect x="1218" y="499" width="1" height="1"/>
<rect x="1221" y="499" width="1" height="1"/>
<rect x="1224" y="499" width="1" height="1"/>
<rect x="1227" y="499" width="1" height="1"/>
<rect x="1230" y="499" width="1" height="1"/>
<rect x="1233" y="499" width="1" height="1"/>
<rect x="1236" y="499" width="1" height="1"/>
<rect x="1239" y="499" width="1" height="1"/>
<rect x="1242" y="499" width="1" height="1"/>
<rect x="1245" y="499" width="1" height="1"/>
<rect x="1248" y="499" width="1" height="1"/>
<rect x="1251" y="499" width="1" height="1"/>
<rect x="1254" y="499" width="1" height="1"/>
<rect x="1257" y="499" width="1" height="1"/>
<rect x="1260" y="499" width="1" height="1"/>
<rect x="1263" y="499" width="1" height="1"/>
<rect x="1266" y="499" width="1" height="1"/>
<rect x="1269" y="499" width="1" height="1"/>
<rect x="1272" y="499" width="1" height="1"/>
<rect x="1275" y="499" width="1" height="1"/>
<rect x="1278" y="499" width="1" height="1"/>
<rect x="1281" y="499" width="1" height="1"/>
<rect x="1284" y="499" width="1" height="1"/>
<rect x="1287" y="499" width="1" height="1"/>
<rect x="1290" y="499" width="1" height="1"/>
<rect x="1293" y="499" width="1" height="1"/>
<rect x="1296" y="499" width="1" height="1"/>
<rect x="1299" y="499" width="1" height="1"/>
<rect x="1302" y="499" width="1" height="1"/>
<rect x="1305" y="499" width="1" height="1"/>
<rect x="1308" y="499" width="1" height="1"/>
<rect x="1311" y="499" width="1" height="1"/>
<rect x="1314" y="499" width="1" height="1"/>
<rect x="1317" y="499" width="1" height="1"/>
<rect x="1320" y="499" width="1" height="1"/>
<rect x="1323" y="499" width="1" height="1"/>
<rect x="1326" y="499" width="1" height="1"/>
<rect x="1329" y="499" width="1" height="1"/>
<rect x="1332" y="499" width="1" height="1"/>
<rect x="1335" y="499" width="1" height="1"/>
<rect x="1338" y="499" width="1" height="1"/>
<rect x="1341" y="499" width="1" height="1"/>
<rect x="1344" y="499" width="1" height="1"/>
</g>
<g shape-rendering="crispEdges">
<rect x="3" y="347" width="1" height="125" fill="#089981"/>
<rect x="1" y="361" width="5" height="98" fill="#089981"/>
<rect x="9" y="305" width="1" height="69" fill="#089981"/>
<rect x="7" y="333" width="5" height="29" fill="#089981"/>
<rect x="15" y="291" width="1" height="42" fill="#089981"/>
<rect x="13" y="305" width="5" height="29" fill="#089981"/>
<rect x="19" y="319" width="5" height="43" fill="#f23645"/>
<rect x="25" y="333" width="5" height="15" fill="#089981"/>
<rect x="31" y="347" width="5" height="15" fill="#f23645"/>
<rect x="37" y="361" width="5" height="14" fill="#f23645"/>
<rect x="43" y="361" width="5" height="14" fill="#f23645"/>
<rect x="51" y="361" width="1" height="13" fill="#089981"/>
<rect x="49" y="374" width="5" height="1" fill="#089981"/>
<rect x="57" y="333" width="1" height="28" fill="#089981"/>
<rect x="55" y="333" width="5" height="15" fill="#089981"/>
<rect x="63" y="319" width="1" height="28" fill="#f23645"/>
<rect x="61" y="333" width="5" height="15" fill="#f23645"/>
<rect x="67" y="249" width="5" height="113" fill="#089981"/>
<rect x="73" y="277" width="5" height="57" fill="#f23645"/>
<rect x="81" y="319" width="1" height="28" fill="#f23645"/>
<rect x="79" y="333" width="5" height="15" fill="#f23645"/>
<rect x="85" y="319" width="5" height="29" fill="#089981"/>
<rect x="93" y="291" width="1" height="28" fill="#089981"/>
<rect x="91" y="305" width="5" height="15" fill="#089981"/>
<rect x="97" y="305" width="5" height="1" fill="#089981"/>
<rect x="103" y="291" width="5" height="43" fill="#f23645"/>
<rect x="109" y="333" width="5" height="15" fill="#f23645"/>
<rect x="115" y="305" width="5" height="43" fill="#089981"/>
<rect x="121" y="277" width="5" height="15" fill="#089981"/>
<rect x="126" y="249" width="5" height="29" fill="#f23645"/>
<rect x="134" y="236" width="1" height="55" fill="#f23645"/>
<rect x="132" y="277" width="5" height="15" fill="#f23645"/>
<rect x="140" y="249" width="1" height="56" fill="#f23645"/>
<rect x="138" y="291" width="5" height="15" fill="#f23645"/>
<rect x="144" y="291" width="5" height="1" fill="#089981"/>
<rect x="152" y="263" width="1" height="42" fill="#f23645"/>
<rect x="150" y="277" width="5" height="15" fill="#f23645"/>
<rect x="156" y="263" width="5" height="15" fill="#089981"/>
<rect x="164" y="249" width="1" height="56" fill="#089981"/>
<rect x="162" y="249" width="5" height="15" fill="#089981"/>
<rect x="168" y="277" width="5" height="1" fill="#089981"/>
<rect x="174" y="291" width="5" height="1" fill="#089981"/>
<rect x="180" y="291" width="5" height="15" fill="#089981"/>
<rect x="186" y="277" width="5" height="15" fill="#f23645"/>
<rect x="192" y="291" width="5" height="1" fill="#089981"/>
<rect x="198" y="277" width="5" height="1" fill="#089981"/>
<rect x="204" y="291" width="5" height="29" fill="#f23645"/>
<rect x="210" y="319" width="5" height="29" fill="#f23645"/>
<rect x="218" y="319" width="1" height="28" fill="#089981"/>
<rect x="216" y="319" width="5" height="15" fill="#089981"/>
<rect x="222" y="319" width="5" height="1" fill="#089981"/>
<rect x="228" y="305" width="5" height="1" fill="#089981"/>
<rect x="234" y="319" width="5" height="15" fill="#089981"/>
<rect x="240" y="305" width="5" height="15" fill="#089981"/>
<rect x="246" y="249" width="5" height="43" fill="#089981"/>
<rect x="254" y="249" width="1" height="42" fill="#f23645"/>
<rect x="252" y="263" width="5" height="29" fill="#f23645"/>
<rect x="260" y="277" width="1" height="28" fill="#089981"/>
<rect x="258" y="277" width="5" height="15" fill="#089981"/>
<rect x="264" y="222" width="5" height="28" fill="#089981"/>
<rect x="272" y="208" width="1" height="14" fill="#089981"/>
<rect x="270" y="222" width="5" height="1" fill="#089981"/>
<rect x="278" y="194" width="1" height="42" fill="#089981"/>
<rect x="276" y="208" width="5" height="1" fill="#089981"/>
<rect x="284" y="194" width="1" height="42" fill="#f23645"/>
<rect x="282" y="194" width="5" height="29" fill="#f23645"/>
<rect x="290" y="166" width="1" height="56" fill="#089981"/>
<rect x="288" y="194" width="5" height="29" fill="#089981"/>
<rect x="296" y="166" width="1" height="28" fill="#089981"/>
<rect x="294" y="180" width="5" height="15" fill="#089981"/>
<rect x="302" y="166" width="1" height="28" fill="#f23645"/>
<rect x="300" y="180" width="5" height="15" fill="#f23645"/>
<rect x="308" y="152" width="1" height="42" fill="#089981"/>
<rect x="306" y="166" width="5" height="15" fill="#089981"/>
<rect x="314" y="124" width="1" height="56" fill="#089981"/>
<rect x="312" y="180" width="5" height="1" fill="#089981"/>
<rect x="318" y="180" width="5" height="15" fill="#f23645"/>
<rect x="324" y="194" width="5" height="15" fill="#089981"/>
<rect x="330" y="208" width="5" height="70" fill="#f23645"/>
<rect x="338" y="249" width="1" height="42" fill="#f23645"/>
<rect x="336" y="263" width="5" height="15" fill="#f23645"/>
<rect x="342" y="236" width="5" height="42" fill="#089981"/>
<rect x="350" y="222" width="1" height="41" fill="#089981"/>
<rect x="348" y="249" width="5" height="1" fill="#089981"/>
<rect x="356" y="208" width="1" height="28" fill="#f23645"/>
<rect x="354" y="208" width="5" height="15" fill="#f23645"/>
<rect x="360" y="194" width="5" height="29" fill="#089981"/>
<rect x="366" y="194" width="5" height="43" fill="#f23645"/>
<rect x="374" y="208" width="1" height="14" fill="#089981"/>
<rect x="372" y="222" width="5" height="1" fill="#089981"/>
<rect x="378" y="194" width="5" height="15" fill="#089981"/>
<rect x="386" y="166" width="1" height="28" fill="#089981"/>
<rect x="384" y="166" width="5" height="15" fill="#089981"/>
<rect x="390" y="166" width="5" height="43" fill="#f23645"/>
<rect x="398" y="180" width="1" height="14" fill="#089981"/>
<rect x="396" y="194" width="5" height="1" fill="#089981"/>
<rect x="403" y="180" width="1" height="14" fill="#089981"/>
<rect x="401" y="180" width="5" height="1" fill="#089981"/>
<rect x="409" y="166" width="1" height="14" fill="#089981"/>
<rect x="407" y="166" width="5" height="1" fill="#089981"/>
<rect x="413" y="152" width="5" height="1" fill="#089981"/>
<rect x="421" y="111" width="1" height="41" fill="#089981"/>
<rect x="419" y="111" width="5" height="28" fill="#089981"/>
<rect x="427" y="83" width="1" height="41" fill="#f23645"/>
<rect x="425" y="111" width="5" height="14" fill="#f23645"/>
<rect x="433" y="69" width="1" height="55" fill="#089981"/>
<rect x="431" y="124" width="5" height="1" fill="#089981"/>
<rect x="439" y="111" width="1" height="13" fill="#089981"/>
<rect x="437" y="124" width="5" height="1" fill="#089981"/>
<rect x="443" y="138" width="5" height="57" fill="#f23645"/>
<rect x="449" y="152" width="5" height="15" fill="#f23645"/>
<rect x="455" y="180" width="5" height="1" fill="#089981"/>
<rect x="461" y="194" width="5" height="1" fill="#089981"/>
<rect x="467" y="180" width="5" height="43" fill="#f23645"/>
<rect x="475" y="194" width="1" height="69" fill="#f23645"/>
<rect x="473" y="194" width="5" height="56" fill="#f23645"/>
<rect x="481" y="236" width="1" height="55" fill="#f23645"/>
<rect x="479" y="249" width="5" height="29" fill="#f23645"/>
<rect x="485" y="277" width="5" height="29" fill="#f23645"/>
<rect x="491" y="263" width="5" height="29" fill="#089981"/>
<rect x="497" y="249" width="5" height="15" fill="#f23645"/>
<rect x="505" y="249" width="1" height="14" fill="#089981"/>
<rect x="503" y="263" width="5" height="1" fill="#089981"/>
<rect x="511" y="236" width="1" height="13" fill="#089981"/>
<rect x="509" y="249" width="5" height="1" fill="#089981"/>
<rect x="515" y="249" width="5" height="15" fill="#089981"/>
<rect x="521" y="236" width="5" height="14" fill="#089981"/>
<rect x="527" y="236" width="5" height="1" fill="#089981"/>
<rect x="535" y="249" width="1" height="84" fill="#f23645"/>
<rect x="533" y="249" width="5" height="43" fill="#f23645"/>
<rect x="539" y="291" width="5" height="1" fill="#089981"/>
<rect x="545" y="291" width="5" height="1" fill="#089981"/>
<rect x="553" y="277" width="1" height="28" fill="#089981"/>
<rect x="551" y="277" width="5" height="15" fill="#089981"/>
<rect x="557" y="236" width="5" height="28" fill="#089981"/>
<rect x="565" y="194" width="1" height="28" fill="#089981"/>
<rect x="563" y="208" width="5" height="15" fill="#089981"/>
<rect x="569" y="208" width="5" height="15" fill="#f23645"/>
<rect x="575" y="236" width="5" height="1" fill="#089981"/>
<rect x="581" y="208" width="5" height="15" fill="#089981"/>
<rect x="587" y="194" width="5" height="1" fill="#089981"/>
<rect x="593" y="208" width="5" height="1" fill="#089981"/>
<rect x="601" y="180" width="1" height="28" fill="#089981"/>
<rect x="599" y="208" width="5" height="1" fill="#089981"/>
<rect x="605" y="208" width="5" height="29" fill="#f23645"/>
<rect x="613" y="222" width="1" height="27" fill="#089981"/>
<rect x="611" y="222" width="5" height="15" fill="#089981"/>
<rect x="617" y="222" width="5" height="1" fill="#089981"/>
<rect x="623" y="249" width="5" height="1" fill="#089981"/>
<rect x="629" y="249" width="5" height="43" fill="#f23645"/>
<rect x="635" y="263" width="5" height="1" fill="#089981"/>
<rect x="641" y="263" width="5" height="15" fill="#089981"/>
<rect x="647" y="236" width="5" height="14" fill="#089981"/>
<rect x="653" y="263" width="5" height="57" fill="#f23645"/>
<rect x="661" y="305" width="1" height="28" fill="#f23645"/>
<rect x="659" y="319" width="5" height="15" fill="#f23645"/>
<rect x="667" y="305" width="1" height="14" fill="#089981"/>
<rect x="665" y="305" width="5" height="1" fill="#089981"/>
<rect x="672" y="305" width="1" height="56" fill="#089981"/>
<rect x="670" y="305" width="5" height="1" fill="#089981"/>
<rect x="676" y="333" width="5" height="29" fill="#f23645"/>
<rect x="684" y="222" width="1" height="139" fill="#089981"/>
<rect x="682" y="249" width="5" height="113" fill="#089981"/>
<rect x="690" y="208" width="1" height="55" fill="#089981"/>
<rect x="688" y="236" width="5" height="14" fill="#089981"/>
<rect x="696" y="263" width="1" height="42" fill="#f23645"/>
<rect x="694" y="263" width="5" height="29" fill="#f23645"/>
<rect x="702" y="263" width="1" height="28" fill="#089981"/>
<rect x="700" y="263" width="5" height="15" fill="#089981"/>
<rect x="708" y="208" width="1" height="83" fill="#089981"/>
<rect x="706" y="222" width="5" height="70" fill="#089981"/>
<rect x="712" y="111" width="5" height="98" fill="#089981"/>
<rect x="718" y="124" width="5" height="57" fill="#f23645"/>
<rect x="726" y="194" width="1" height="69" fill="#f23645"/>
<rect x="724" y="194" width="5" height="56" fill="#f23645"/>
<rect x="732" y="249" width="1" height="42" fill="#f23645"/>
<rect x="730" y="249" width="5" height="29" fill="#f23645"/>
<rect x="738" y="249" width="1" height="28" fill="#f23645"/>
<rect x="736" y="249" width="5" height="15" fill="#f23645"/>
<rect x="742" y="263" width="5" height="15" fill="#f23645"/>
<rect x="748" y="249" width="5" height="15" fill="#089981"/>
<rect x="754" y="208" width="5" height="56" fill="#089981"/>
<rect x="760" y="194" width="5" height="15" fill="#089981"/>
<rect x="766" y="180" width="5" height="29" fill="#f23645"/>
<rect x="772" y="236" width="5" height="70" fill="#f23645"/>
<rect x="780" y="333" width="1" height="41" fill="#f23645"/>
<rect x="778" y="333" width="5" height="15" fill="#f23645"/>
<rect x="786" y="277" width="1" height="56" fill="#089981"/>
<rect x="784" y="291" width="5" height="43" fill="#089981"/>
<rect x="792" y="124" width="1" height="139" fill="#089981"/>
<rect x="790" y="138" width="5" height="126" fill="#089981"/>
<rect x="798" y="138" width="1" height="70" fill="#f23645"/>
<rect x="796" y="152" width="5" height="57" fill="#f23645"/>
<rect x="804" y="222" width="1" height="27" fill="#f23645"/>
<rect x="802" y="222" width="5" height="15" fill="#f23645"/>
<rect x="810" y="222" width="1" height="41" fill="#f23645"/>
<rect x="808" y="222" width="5" height="28" fill="#f23645"/>
<rect x="816" y="166" width="1" height="111" fill="#089981"/>
<rect x="814" y="194" width="5" height="70" fill="#089981"/>
<rect x="822" y="111" width="1" height="125" fill="#f23645"/>
<rect x="820" y="166" width="5" height="43" fill="#f23645"/>
<rect x="826" y="222" width="5" height="28" fill="#f23645"/>
<rect x="834" y="208" width="1" height="97" fill="#089981"/>
<rect x="832" y="208" width="5" height="56" fill="#089981"/>
<rect x="840" y="166" width="1" height="83" fill="#089981"/>
<rect x="838" y="180" width="5" height="29" fill="#089981"/>
<rect x="846" y="180" width="1" height="153" fill="#f23645"/>
<rect x="844" y="194" width="5" height="112" fill="#f23645"/>
<rect x="852" y="291" width="1" height="83" fill="#f23645"/>
<rect x="850" y="319" width="5" height="15" fill="#f23645"/>
<rect x="858" y="305" width="1" height="56" fill="#089981"/>
<rect x="856" y="347" width="5" height="1" fill="#089981"/>
<rect x="864" y="319" width="1" height="42" fill="#089981"/>
<rect x="862" y="347" width="5" height="1" fill="#089981"/>
<rect x="870" y="347" width="1" height="41" fill="#089981"/>
<rect x="868" y="347" width="5" height="1" fill="#089981"/>
<rect x="876" y="319" width="1" height="42" fill="#f23645"/>
<rect x="874" y="347" width="5" height="15" fill="#f23645"/>
<rect x="882" y="333" width="1" height="41" fill="#089981"/>
<rect x="880" y="361" width="5" height="1" fill="#089981"/>
<rect x="888" y="277" width="1" height="56" fill="#089981"/>
<rect x="886" y="305" width="5" height="29" fill="#089981"/>
<rect x="894" y="277" width="1" height="28" fill="#f23645"/>
<rect x="892" y="277" width="5" height="15" fill="#f23645"/>
<rect x="900" y="291" width="1" height="70" fill="#f23645"/>
<rect x="898" y="291" width="5" height="43" fill="#f23645"/>
<rect x="906" y="305" width="1" height="28" fill="#089981"/>
<rect x="904" y="305" width="5" height="15" fill="#089981"/>
<rect x="910" y="305" width="5" height="15" fill="#089981"/>
<rect x="916" y="291" width="5" height="15" fill="#f23645"/>
<rect x="922" y="291" width="5" height="15" fill="#089981"/>
<rect x="928" y="319" width="5" height="15" fill="#f23645"/>
<rect x="936" y="333" width="1" height="14" fill="#089981"/>
<rect x="934" y="347" width="5" height="1" fill="#089981"/>
<rect x="942" y="319" width="1" height="14" fill="#089981"/>
<rect x="940" y="333" width="5" height="1" fill="#089981"/>
<rect x="947" y="347" width="1" height="69" fill="#f23645"/>
<rect x="945" y="361" width="5" height="14" fill="#f23645"/>
<rect x="951" y="374" width="5" height="29" fill="#f23645"/>
<rect x="957" y="388" width="5" height="29" fill="#089981"/>
<rect x="965" y="347" width="1" height="27" fill="#089981"/>
<rect x="963" y="361" width="5" height="14" fill="#089981"/>
<rect x="971" y="347" width="1" height="41" fill="#089981"/>
<rect x="969" y="347" width="5" height="1" fill="#089981"/>
<rect x="975" y="361" width="5" height="28" fill="#f23645"/>
<rect x="981" y="388" width="5" height="1" fill="#089981"/>
<rect x="989" y="347" width="1" height="27" fill="#089981"/>
<rect x="987" y="361" width="5" height="14" fill="#089981"/>
<rect x="995" y="333" width="1" height="55" fill="#089981"/>
<rect x="993" y="347" width="5" height="1" fill="#089981"/>
<rect x="1001" y="333" width="1" height="41" fill="#f23645"/>
<rect x="999" y="347" width="5" height="28" fill="#f23645"/>
<rect x="1007" y="333" width="1" height="41" fill="#089981"/>
<rect x="1005" y="374" width="5" height="1" fill="#089981"/>
<rect x="1013" y="333" width="1" height="41" fill="#089981"/>
<rect x="1011" y="347" width="5" height="28" fill="#089981"/>
<rect x="1017" y="333" width="5" height="42" fill="#f23645"/>
<rect x="1025" y="347" width="1" height="27" fill="#089981"/>
<rect x="1023" y="347" width="5" height="15" fill="#089981"/>
<rect x="1029" y="347" width="5" height="15" fill="#f23645"/>
<rect x="1035" y="333" width="5" height="29" fill="#f23645"/>
<rect x="1043" y="277" width="1" height="70" fill="#089981"/>
<rect x="1041" y="305" width="5" height="43" fill="#089981"/>
<rect x="1049" y="291" width="1" height="97" fill="#089981"/>
<rect x="1047" y="305" width="5" height="15" fill="#089981"/>
<rect x="1055" y="249" width="1" height="56" fill="#089981"/>
<rect x="1053" y="263" width="5" height="43" fill="#089981"/>
<rect x="1059" y="277" width="5" height="71" fill="#f23645"/>
<rect x="1065" y="361" width="5" height="98" fill="#f23645"/>
<rect x="1073" y="319" width="1" height="139" fill="#089981"/>
<rect x="1071" y="333" width="5" height="98" fill="#089981"/>
<rect x="1079" y="305" width="1" height="83" fill="#f23645"/>
<rect x="1077" y="333" width="5" height="56" fill="#f23645"/>
<rect x="1085" y="305" width="1" height="125" fill="#089981"/>
<rect x="1083" y="305" width="5" height="84" fill="#089981"/>
<rect x="1091" y="277" width="1" height="28" fill="#089981"/>
<rect x="1089" y="305" width="5" height="1" fill="#089981"/>
<rect x="1097" y="263" width="1" height="42" fill="#089981"/>
<rect x="1095" y="277" width="5" height="29" fill="#089981"/>
<rect x="1103" y="263" width="1" height="223" fill="#f23645"/>
<rect x="1101" y="263" width="5" height="154" fill="#f23645"/>
<rect x="1109" y="402" width="1" height="56" fill="#f23645"/>
<rect x="1107" y="402" width="5" height="29" fill="#f23645"/>
<rect x="1115" y="388" width="1" height="98" fill="#089981"/>
<rect x="1113" y="402" width="5" height="15" fill="#089981"/>
<rect x="1121" y="402" width="1" height="70" fill="#f23645"/>
<rect x="1119" y="402" width="5" height="57" fill="#f23645"/>
<rect x="1127" y="472" width="1" height="41" fill="#f23645"/>
<rect x="1125" y="472" width="5" height="28" fill="#f23645"/>
<rect x="1133" y="458" width="1" height="55" fill="#089981"/>
<rect x="1131" y="472" width="5" height="15" fill="#089981"/>
<rect x="1139" y="499" width="1" height="70" fill="#f23645"/>
<rect x="1137" y="499" width="5" height="57" fill="#f23645"/>
<rect x="1143" y="513" width="5" height="29" fill="#089981"/>
<rect x="1151" y="513" width="1" height="28" fill="#f23645"/>
<rect x="1149" y="527" width="5" height="15" fill="#f23645"/>
<rect x="1157" y="541" width="1" height="28" fill="#089981"/>
<rect x="1155" y="555" width="5" height="1" fill="#089981"/>
<rect x="1163" y="527" width="1" height="42" fill="#089981"/>
<rect x="1161" y="541" width="5" height="29" fill="#089981"/>
<rect x="1169" y="499" width="1" height="70" fill="#089981"/>
<rect x="1167" y="499" width="5" height="43" fill="#089981"/>
<rect x="1175" y="486" width="1" height="41" fill="#089981"/>
<rect x="1173" y="486" width="5" height="1" fill="#089981"/>
<rect x="1181" y="486" width="1" height="55" fill="#f23645"/>
<rect x="1179" y="513" width="5" height="15" fill="#f23645"/>
<rect x="1187" y="527" width="1" height="42" fill="#f23645"/>
<rect x="1185" y="527" width="5" height="29" fill="#f23645"/>
<rect x="1193" y="527" width="1" height="42" fill="#089981"/>
<rect x="1191" y="555" width="5" height="15" fill="#089981"/>
<rect x="1199" y="527" width="1" height="42" fill="#089981"/>
<rect x="1197" y="555" width="5" height="1" fill="#089981"/>
<rect x="1205" y="513" width="1" height="111" fill="#f23645"/>
<rect x="1203" y="527" width="5" height="43" fill="#f23645"/>
<rect x="1211" y="527" width="1" height="70" fill="#089981"/>
<rect x="1209" y="555" width="5" height="29" fill="#089981"/>
<rect x="1216" y="513" width="1" height="70" fill="#089981"/>
<rect x="1214" y="541" width="5" height="29" fill="#089981"/>
<rect x="1222" y="430" width="1" height="83" fill="#089981"/>
<rect x="1220" y="444" width="5" height="70" fill="#089981"/>
<rect x="1228" y="416" width="1" height="70" fill="#f23645"/>
<rect x="1226" y="430" width="5" height="43" fill="#f23645"/>
<rect x="1234" y="430" width="1" height="111" fill="#089981"/>
<rect x="1232" y="486" width="5" height="1" fill="#089981"/>
<rect x="1240" y="430" width="1" height="83" fill="#089981"/>
<rect x="1238" y="458" width="5" height="42" fill="#089981"/>
<rect x="1246" y="430" width="1" height="83" fill="#f23645"/>
<rect x="1244" y="458" width="5" height="56" fill="#f23645"/>
<rect x="1252" y="499" width="1" height="70" fill="#f23645"/>
<rect x="1250" y="499" width="5" height="57" fill="#f23645"/>
<rect x="1258" y="527" width="1" height="42" fill="#f23645"/>
<rect x="1256" y="541" width="5" height="15" fill="#f23645"/>
<rect x="1264" y="499" width="1" height="56" fill="#089981"/>
<rect x="1262" y="513" width="5" height="43" fill="#089981"/>
<rect x="1270" y="472" width="1" height="97" fill="#f23645"/>
<rect x="1268" y="499" width="5" height="71" fill="#f23645"/>
<rect x="1276" y="541" width="1" height="28" fill="#f23645"/>
<rect x="1274" y="555" width="5" height="15" fill="#f23645"/>
<rect x="1280" y="499" width="5" height="43" fill="#089981"/>
</g>
<path d="M0 4 Q0 0.5 4 0.5 L1410 0.5" fill="none" stroke="#e0e3eb" stroke-width="1"/>
<text x="1378.6" y="656.6" font-size="15.6" fill="#131722" textLength="21.6" lengthAdjust="spacingAndGlyphs">0.0</text>
<text x="1355.2" y="587.6" font-size="15.6" fill="#131722" textLength="45" lengthAdjust="spacingAndGlyphs">2380.5</text>
<text x="1355.2" y="448.6" font-size="15.6" fill="#131722" textLength="45" lengthAdjust="spacingAndGlyphs">2381.5</text>
<text x="1355.2" y="378.6" font-size="15.6" fill="#131722" textLength="45" lengthAdjust="spacingAndGlyphs">2382.0</text>
<text x="1355.2" y="309.6" font-size="15.6" fill="#131722" textLength="45" lengthAdjust="spacingAndGlyphs">2382.5</text>
<text x="1355.2" y="240.6" font-size="15.6" fill="#131722" textLength="45" lengthAdjust="spacingAndGlyphs">2383.0</text>
<text x="1355.2" y="170.6" font-size="15.6" fill="#131722" textLength="45" lengthAdjust="spacingAndGlyphs">2383.5</text>
<text x="1355.2" y="101.6" font-size="15.6" fill="#131722" textLength="45" lengthAdjust="spacingAndGlyphs">2384.0</text>
<text x="1355.2" y="31.6" font-size="15.6" fill="#131722" textLength="45" lengthAdjust="spacingAndGlyphs">2384.5</text>
<path d="M1345 489 H1405 Q1407 489 1407 491 V526 Q1407 528 1405 528 H1345 Z" fill="#089981"/>
<text x="1355.8" y="505" font-size="15.4" fill="#ffffff" textLength="44" lengthAdjust="spacingAndGlyphs">2381.1</text>
<text x="1356" y="523.2" font-size="15.4" fill="#ffffff" fill-opacity="0.8" textLength="36" lengthAdjust="spacingAndGlyphs">00:11</text>
<path d="M1345 644 H1376 Q1378 644 1378 646 V663 Q1378 665 1376 665 H1345 Z" fill="#26a69a"/>
<text x="1355.6" y="659.1" font-size="15.4" fill="#ffffff" textLength="16.8" lengthAdjust="spacingAndGlyphs">25</text>
<text x="140.0" y="703" font-size="15.4" fill="#131722" textLength="36.6" lengthAdjust="spacingAndGlyphs">22:30</text>
<text x="319.7" y="703" font-size="15.4" fill="#131722" textLength="36.6" lengthAdjust="spacingAndGlyphs">23:00</text>
<text x="498.7" y="703" font-size="15.4" fill="#131722" textLength="36.6" lengthAdjust="spacingAndGlyphs">23:30</text>
<text x="676.5" y="703" font-size="15.4" fill="#131722" font-weight="bold" textLength="16.6" lengthAdjust="spacingAndGlyphs">17</text>
<text x="845.2" y="703" font-size="15.4" fill="#131722" textLength="36.6" lengthAdjust="spacingAndGlyphs">00:30</text>
<text x="1024.7" y="703" font-size="15.4" fill="#131722" textLength="36.6" lengthAdjust="spacingAndGlyphs">01:00</text>
<text x="1203.7" y="703" font-size="15.4" fill="#131722" textLength="36.6" lengthAdjust="spacingAndGlyphs">01:30</text>
<text x="1305.7" y="703" font-size="15.4" fill="#131722" textLength="36.6" lengthAdjust="spacingAndGlyphs">01:47</text>
<text x="0.9" y="703" font-size="15.4" fill="#131722">:</text><text x="5.1" y="703" font-size="15.4" fill="#131722" textLength="16.8" lengthAdjust="spacingAndGlyphs">00</text>
<g fill="none" stroke="#131722" stroke-width="1.3" stroke-linejoin="round"><path d="M1370.9 698.3 L1375.1 691 L1383.7 691 L1387.9 698.3 L1383.7 705.6 L1375.1 705.6 Z"/><circle cx="1379.4" cy="698.3" r="2.4"/></g>
<g><circle cx="1282.6" cy="663.5" r="12.1" fill="#ffffff" stroke="#9c27b0" stroke-width="2"/><path d="M1286.9 656.9 L1276.2 664.2 L1282.3 664.2 L1278.3 670.2 L1288 662.7 L1282 662.7 Z" fill="#9c27b0"/></g>
<circle cx="22.5" cy="21" r="11.35" fill="#d69a00"/>
<g fill="#ffffff"><path d="M20.4 15.8 H24.7 L26.9 19.8 H18.0 Z"/><path d="M15.8 20.9 H20.0 L22.0 24.9 H13.8 Z"/><path d="M24.9 20.9 H29.1 L31.1 24.9 H23.0 Z"/></g>
<text x="39.2" y="28.6" font-size="20" fill="#131722" stroke="#131722" stroke-width="0.3" textLength="112.6" lengthAdjust="spacingAndGlyphs">Gold Futures</text>
<rect x="159.3" y="21.1" width="2.8" height="2.8" rx="0.6" fill="#131722"/>
<text x="167.8" y="28.6" font-size="20" fill="#131722" stroke="#131722" stroke-width="0.3">1</text>
<rect x="184.8" y="21.1" width="2.8" height="2.8" rx="0.6" fill="#131722"/>
<text x="194" y="28.6" font-size="20" fill="#131722" stroke="#131722" stroke-width="0.3" textLength="60.6" lengthAdjust="spacingAndGlyphs">COMEX</text>
<path d="M285 10 H299 V32 H285 A11 11 0 0 1 285 10 Z" fill="#daf0ec"/>
<path d="M299 10 H313 A11 11 0 0 1 313 32 H299 Z" fill="#ffeacc"/>
<circle cx="287" cy="20.8" r="5.1" fill="#089981"/>
<text x="304.6" y="26.7" font-size="16" fill="#f57c00" stroke="#f57c00" stroke-width="0.5" textLength="10.6" lengthAdjust="spacingAndGlyphs">D</text>
<text x="344.2" y="27" font-size="15.4" fill="#131722" textLength="10.8" lengthAdjust="spacingAndGlyphs">O</text>
<text x="356.4" y="27" font-size="15.4" fill="#089981" textLength="47.6" lengthAdjust="spacingAndGlyphs">2380.8</text>
<text x="413" y="27" font-size="15.4" fill="#131722" textLength="9.6" lengthAdjust="spacingAndGlyphs">H</text>
<text x="424.2" y="27" font-size="15.4" fill="#089981" textLength="46.3" lengthAdjust="spacingAndGlyphs">2381.1</text>
<text x="481.2" y="27" font-size="15.4" fill="#131722" textLength="7.4" lengthAdjust="spacingAndGlyphs">L</text>
<text x="489.8" y="27" font-size="15.4" fill="#089981" textLength="47.6" lengthAdjust="spacingAndGlyphs">2380.8</text>
<text x="546" y="27" font-size="15.4" fill="#131722" textLength="9.5" lengthAdjust="spacingAndGlyphs">C</text>
<text x="556.5" y="27" font-size="15.4" fill="#089981" textLength="46.3" lengthAdjust="spacingAndGlyphs">2381.1</text>
<text x="612.5" y="27" font-size="15.4" fill="#089981" textLength="30" lengthAdjust="spacingAndGlyphs">+0.5</text>
<text x="650" y="27" font-size="15.4" fill="#089981" textLength="60" lengthAdjust="spacingAndGlyphs">(+0.02%)</text>
<circle cx="725" cy="21.4" r="2.2" fill="#b2b5be"/><circle cx="734" cy="21.4" r="2.2" fill="#d1d4dc"/><circle cx="743" cy="21.4" r="2.2" fill="#e6e8ee"/>
<rect x="10.5" y="41.5" width="67" height="29" rx="4.5" fill="#ffffff" stroke="#f23645" stroke-width="1"/>
<text x="20.3" y="61.9" font-size="15" fill="#f23645" textLength="47.5" lengthAdjust="spacingAndGlyphs">2381.0</text>
<text x="88" y="60.8" font-size="13" fill="#131722" textLength="18" lengthAdjust="spacingAndGlyphs">0.1</text>
<rect x="118.5" y="41.5" width="67" height="29" rx="4.5" fill="#ffffff" stroke="#2962ff" stroke-width="1"/>
<text x="128.5" y="61.9" font-size="15" fill="#2962ff" textLength="46.3" lengthAdjust="spacingAndGlyphs">2381.1</text>
<text x="11.3" y="96.8" font-size="15" fill="#131722" textLength="21.2" lengthAdjust="spacingAndGlyphs">Vol</text>
<text x="43.1" y="96.8" font-size="15" fill="#26a69a" textLength="16.2" lengthAdjust="spacingAndGlyphs">25</text>
<rect x="11.5" y="109.5" width="35" height="24" rx="4" fill="#ffffff" stroke="#d1d4dc" stroke-width="1"/>
<path d="M23.3 123.8 L28.5 119.3 L33.7 123.8" fill="none" stroke="#131722" stroke-width="1.6"/>
<g fill="#ffffff" stroke="#ffffff" stroke-width="3.6" stroke-linejoin="round"><path d="M15.2 644 H29.8 V662.2 H22.4 V651 H15.2 Z"/><circle cx="36.1" cy="647.7" r="3.8"/><path d="M42.6 644 H52.2 L44.6 662.2 H36.4 Z"/><rect x="61.10" y="643.70" width="13.80" height="3.70"/><rect x="66.40" y="643.70" width="3.40" height="18.40"/><rect x="75.20" y="649.10" width="3.40" height="13.00"/><rect x="93.70" y="649.10" width="3.45" height="13.00"/><rect x="110.20" y="643.70" width="3.40" height="18.40"/><rect x="116.70" y="649.10" width="3.40" height="13.00"/><circle cx="118.4" cy="645.4" r="2.25"/><rect x="122.70" y="649.10" width="3.40" height="13.00"/><polygon points="151.00,643.70 155.00,643.70 160.40,657.10 165.75,643.70 169.75,643.70 162.40,662.10 158.40,662.10"/><rect x="171.20" y="649.10" width="3.50" height="13.00"/><circle cx="172.95" cy="645.4" r="2.25"/><polygon points="191.30,649.10 195.50,649.10 197.63,655.68 199.75,649.10 203.95,649.10 206.08,655.68 208.20,649.10 212.40,649.10 208.20,662.10 204.00,662.10 201.85,655.60 199.70,662.10 195.50,662.10"/></g>
<path d="M76.9 658 V656 Q76.9 650.8 82.9 650.8" fill="none" stroke="#ffffff" stroke-width="7.0" stroke-linecap="round"/>
<circle cx="90.05" cy="655.6" r="4.8" fill="#ffffff" stroke="#ffffff" stroke-width="7.0" stroke-linecap="round"/>
<circle cx="106.5" cy="655.6" r="4.8" fill="#ffffff" stroke="#ffffff" stroke-width="7.0" stroke-linecap="round"/>
<path d="M124.4 657 V656 A4.4 5.2 0 0 1 133.2 656 V662.1" fill="none" stroke="#ffffff" stroke-width="7.0" stroke-linecap="round"/>
<circle cx="143.6" cy="655.6" r="4.8" fill="#ffffff" stroke="#ffffff" stroke-width="7.0" stroke-linecap="round"/>
<path d="M149 649.1 V661 A5.1 5.1 0 0 1 140 664.4" fill="none" stroke="#ffffff" stroke-width="7.0" stroke-linecap="round"/>
<path d="M187.8 659.0 A4.9 4.9 0 1 1 188.9 656.3 H180.5" fill="#ffffff" stroke="#ffffff" stroke-width="6.7" stroke-linecap="round"/>
<g fill="#131722"><path d="M15.2 644 H29.8 V662.2 H22.4 V651 H15.2 Z"/><circle cx="36.1" cy="647.7" r="3.8"/><path d="M42.6 644 H52.2 L44.6 662.2 H36.4 Z"/><rect x="61.10" y="643.70" width="13.80" height="3.70"/><rect x="66.40" y="643.70" width="3.40" height="18.40"/><rect x="75.20" y="649.10" width="3.40" height="13.00"/><rect x="93.70" y="649.10" width="3.45" height="13.00"/><rect x="110.20" y="643.70" width="3.40" height="18.40"/><rect x="116.70" y="649.10" width="3.40" height="13.00"/><circle cx="118.4" cy="645.4" r="2.25"/><rect x="122.70" y="649.10" width="3.40" height="13.00"/><polygon points="151.00,643.70 155.00,643.70 160.40,657.10 165.75,643.70 169.75,643.70 162.40,662.10 158.40,662.10"/><rect x="171.20" y="649.10" width="3.50" height="13.00"/><circle cx="172.95" cy="645.4" r="2.25"/><polygon points="191.30,649.10 195.50,649.10 197.63,655.68 199.75,649.10 203.95,649.10 206.08,655.68 208.20,649.10 212.40,649.10 208.20,662.10 204.00,662.10 201.85,655.60 199.70,662.10 195.50,662.10"/></g>
<path d="M76.9 658 V656 Q76.9 650.8 82.9 650.8" fill="none" stroke="#131722" stroke-width="3.4"/>
<circle cx="90.05" cy="655.6" r="4.8" fill="none" stroke="#131722" stroke-width="3.4"/>
<circle cx="106.5" cy="655.6" r="4.8" fill="none" stroke="#131722" stroke-width="3.4"/>
<path d="M124.4 657 V656 A4.4 5.2 0 0 1 133.2 656 V662.1" fill="none" stroke="#131722" stroke-width="3.4"/>
<circle cx="143.6" cy="655.6" r="4.8" fill="none" stroke="#131722" stroke-width="3.4"/>
<path d="M149 649.1 V661 A5.1 5.1 0 0 1 140 664.4" fill="none" stroke="#131722" stroke-width="3.4"/>
<path d="M187.8 659.0 A4.9 4.9 0 1 1 188.9 656.3 H180.5" fill="none" stroke="#131722" stroke-width="3.1"/>
</svg></body></html>
